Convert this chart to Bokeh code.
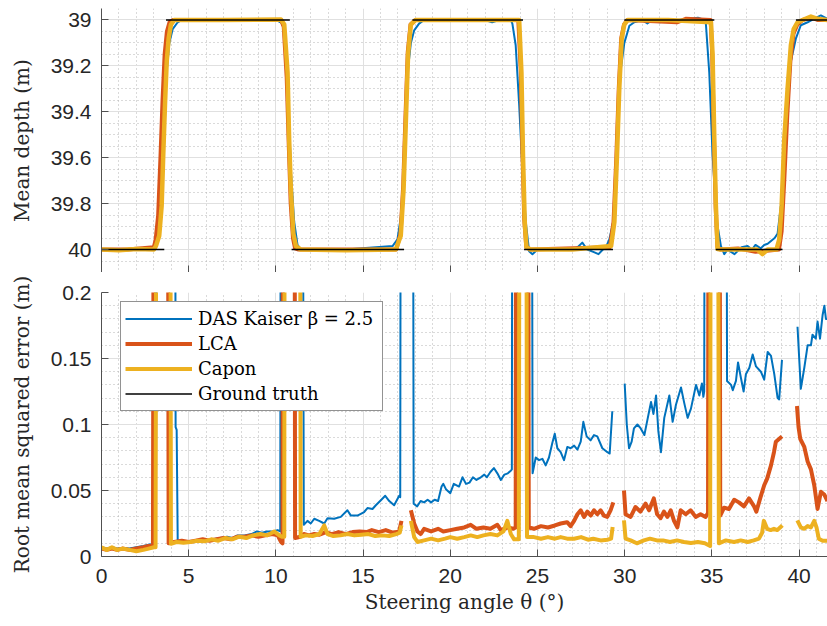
import numpy as np
from bokeh.plotting import figure
from bokeh.layouts import column
from bokeh.models import (Range1d, FixedTicker, Legend, LegendItem, ColumnDataSource,
                          CustomJSTickFormatter)
from bokeh.embed import file_html
from bokeh.resources import INLINE

NAN = float("nan")

# ---------------- data ----------------
X_TICKS = [0, 5, 10, 15, 20, 25, 30, 35, 40]
X_MINOR = [v for v in range(1, 42) if v % 5 != 0]
DEPTH_TICKS = [39.0, 39.2, 39.4, 39.6, 39.8, 40.0]
DEPTH_MINOR = [38.95, 39.05, 39.1, 39.15, 39.25, 39.3, 39.35, 39.45, 39.5, 39.55,
               39.65, 39.7, 39.75, 39.85, 39.9, 39.95, 40.05]
RMSE_TICKS = [0.0, 0.05, 0.1, 0.15, 0.2]
RMSE_MINOR = [0.01, 0.02, 0.03, 0.04, 0.06, 0.07, 0.08, 0.09, 0.11, 0.12, 0.13, 0.14,
              0.16, 0.17, 0.18, 0.19]

# mean depth (angle, depth)
DAS_DEPTH = [(0.0, 40.0), (1.0, 40.0), (2.0, 40.0), (3.0, 40.0), (3.22, 39.96), (3.41, 39.87), (3.6, 39.52),
             (3.73, 39.23), (3.89, 39.1), (4.08, 39.04), (4.37, 39.01), (4.6, 39.0), (7.0, 39.0), (10.0, 39.0),
             (10.38, 39.015), (10.57, 39.11), (10.73, 39.37), (10.86, 39.66), (11.05, 39.88), (11.24, 39.98),
             (11.43, 40.0), (14.0, 40.0), (16.69, 39.985), (16.97, 39.956), (17.26, 39.81), (17.39, 39.52),
             (17.55, 39.23), (17.74, 39.1), (17.93, 39.045), (18.21, 39.016), (18.5, 39.0), (22.0, 39.0),
             (22.4, 39.01), (22.8, 39.0), (23.2, 38.997), (23.47, 39.0), (23.56, 39.016), (23.75, 39.11),
             (23.95, 39.37), (24.14, 39.66), (24.33, 39.88), (24.52, 40.007), (24.71, 40.02), (25.0, 40.0),
             (27.0, 40.0), (27.3, 39.99), (27.57, 39.97), (27.85, 40.0), (28.2, 40.01), (28.5, 40.02),
             (28.75, 40.0), (28.95, 39.985), (29.12, 39.956), (29.37, 39.87), (29.56, 39.52), (29.75, 39.23),
             (29.98, 39.1), (30.27, 39.025), (30.55, 39.01), (31.0, 39.0), (31.3, 39.015), (31.6, 39.0),
             (32.0, 39.01), (33.0, 39.0), (33.8, 38.995), (34.2, 38.99), (34.4, 38.995), (34.6, 39.0),
             (34.66, 39.02), (34.85, 39.23), (35.04, 39.59), (35.29, 39.88), (35.52, 39.985), (35.71, 40.02),
             (35.9, 40.0), (36.3, 40.02), (36.7, 39.99), (37.05, 39.985), (37.3, 40.0), (37.5, 39.98),
             (37.8, 39.995), (38.0, 39.98), (38.2, 39.975), (38.6, 39.95), (38.77, 39.93), (39.0, 39.78),
             (39.25, 39.45), (39.53, 39.18), (39.82, 39.08), (40.1, 39.023), (40.49, 39.01), (40.87, 38.994),
             (41.25, 38.98), (41.63, 38.995)]
LCA_DEPTH = [(0.0, 40.0), (1.5, 40.0), (3.0, 39.99), (3.1, 39.96), (3.25, 39.85), (3.38, 39.6), (3.5, 39.35),
             (3.62, 39.15), (3.75, 39.05), (3.9, 39.01), (4.1, 39.0), (10.3, 39.0), (10.45, 39.03), (10.62, 39.25),
             (10.74, 39.55), (10.85, 39.8), (10.98, 39.95), (11.1, 39.995), (11.3, 40.0), (16.9, 40.0),
             (17.15, 39.93), (17.3, 39.72), (17.43, 39.42), (17.56, 39.14), (17.72, 39.02), (18.0, 39.0),
             (23.9, 39.0), (24.04, 39.22), (24.14, 39.58), (24.24, 39.87), (24.36, 39.99), (24.6, 40.0),
             (29.15, 39.99), (29.36, 39.88), (29.52, 39.6), (29.66, 39.3), (29.8, 39.08), (29.96, 39.02),
             (30.15, 39.0), (33.0, 39.01), (33.5, 38.995), (34.93, 39.0), (35.02, 39.15), (35.12, 39.52),
             (35.22, 39.82), (35.32, 39.99), (35.5, 40.0), (36.5, 39.995), (37.5, 40.01), (38.85, 40.0),
             (39.0, 39.92), (39.15, 39.7), (39.32, 39.42), (39.5, 39.18), (39.68, 39.06), (39.9, 39.02),
             (40.2, 39.0), (40.7, 38.99), (41.1, 39.0), (41.63, 39.0)]
CAPON_DEPTH = [(0.0, 40.0), (1.0, 40.003), (2.0, 39.998), (3.0, 40.0), (3.12, 39.985), (3.31, 39.94), (3.45, 39.81),
               (3.54, 39.59), (3.64, 39.37), (3.74, 39.18), (3.85, 39.08), (3.98, 39.02), (4.17, 39.0), (7.0, 39.0),
               (10.29, 38.998), (10.48, 39.02), (10.67, 39.23), (10.76, 39.52), (10.86, 39.74), (11.0, 39.93),
               (11.15, 39.985), (11.43, 40.0), (14.0, 40.003), (16.88, 40.0), (17.16, 39.94), (17.32, 39.74),
               (17.45, 39.45), (17.58, 39.15), (17.74, 39.02), (18.02, 39.0), (21.0, 39.0), (23.95, 39.0),
               (24.08, 39.23), (24.17, 39.59), (24.27, 39.88), (24.37, 39.99), (24.6, 40.0), (27.0, 40.0),
               (29.22, 39.985), (29.41, 39.88), (29.56, 39.59), (29.69, 39.3), (29.83, 39.08), (29.98, 39.02),
               (30.17, 39.0), (32.5, 39.0), (34.95, 39.01), (35.04, 39.15), (35.14, 39.52), (35.23, 39.81),
               (35.33, 39.998), (35.5, 40.0), (37.6, 40.0), (37.9, 40.02), (38.2, 40.0), (38.7, 40.0),
               (38.86, 39.957), (39.0, 39.81), (39.15, 39.52), (39.34, 39.3), (39.53, 39.11), (39.69, 39.04),
               (39.91, 39.01), (40.3, 38.997), (40.68, 38.985), (41.06, 38.995), (41.63, 39.0)]
# ground truth segments (start angle, end angle, depth)
GT_SEGMENTS = [(0.0, 3.6, 40.0), (3.7, 10.8, 39.0), (10.9, 17.35, 40.0), (17.83, 24.17, 39.0),
               (24.23, 29.33, 40.0), (29.98, 35.14, 39.0), (35.22, 39.05, 40.0), (39.82, 41.63, 39.0)]

# root mean squared error (angle, rmse); 0.6 = off the top of the axes, NaN = no data
DAS_RMSE = [(0.0, 0.007), (0.3, 0.006), (0.6, 0.007), (0.9, 0.006), (1.2, 0.0065), (1.6, 0.006), (2.0, 0.007),
            (2.4, 0.008), (2.7, 0.009), (3.0, 0.009), (3.12, 0.01), (3.2, 0.6), (4.2, 0.6), (4.25, 0.098),
            (4.31, 0.096), (4.37, 0.012), (4.6, 0.011), (5.0, 0.011), (5.3, 0.012), (5.6, 0.011), (6.0, 0.012),
            (6.4, 0.013), (6.8, 0.014), (7.2, 0.015), (7.5, 0.014), (7.8, 0.016), (8.2, 0.016), (8.6, 0.017),
            (8.9, 0.019), (9.2, 0.018), (9.5, 0.019), (9.8, 0.019), (10.1, 0.02), (10.25, 0.019), (10.3, 0.6),
            (11.5, 0.6), (11.6, 0.024), (11.81, 0.027), (12.0, 0.025), (12.2, 0.0286), (12.48, 0.027),
            (12.77, 0.025), (12.96, 0.029), (13.34, 0.0286), (13.72, 0.03), (14.1, 0.035), (14.3, 0.031),
            (14.68, 0.031), (15.06, 0.0337), (15.25, 0.0367), (15.54, 0.036), (15.73, 0.0388), (16.02, 0.0426),
            (16.27, 0.046), (16.5, 0.042), (16.78, 0.0388), (17.07, 0.046), (17.13, 0.045), (17.18, 0.6),
            (17.83, 0.6), (17.9, 0.04), (18.1, 0.038), (18.3, 0.042), (18.5, 0.041), (18.7, 0.043), (18.9, 0.041),
            (19.1, 0.043), (19.3, 0.042), (19.5, 0.053), (19.6, 0.055), (19.75, 0.051), (20.0, 0.048),
            (20.2, 0.055), (20.5, 0.053), (20.7, 0.06), (20.9, 0.055), (21.1, 0.056), (21.3, 0.06), (21.5, 0.058),
            (21.75, 0.06), (21.95, 0.062), (22.1, 0.06), (22.3, 0.064), (22.5, 0.067), (22.7, 0.063),
            (22.9, 0.058), (23.1, 0.062), (23.3, 0.063), (23.47, 0.065), (23.53, 0.066), (23.58, 0.6),
            (24.64, 0.6), (24.72, 0.063), (24.9, 0.075), (25.09, 0.073), (25.28, 0.074), (25.47, 0.069),
            (25.66, 0.075), (25.85, 0.086), (25.99, 0.093), (26.14, 0.082), (26.33, 0.079), (26.52, 0.073),
            (26.71, 0.083), (26.9, 0.082), (27.1, 0.084), (27.29, 0.081), (27.48, 0.087), (27.63, 0.102),
            (27.82, 0.091), (28.05, 0.088), (28.24, 0.092), (28.43, 0.091), (28.72, 0.082), (29.01, 0.079),
            (29.14, 0.078), (29.29, 0.11), (29.6, NAN), (30.0, 0.131), (30.12, 0.1), (30.25, 0.082),
            (30.4, 0.087), (30.53, 0.097), (30.73, 0.1), (30.92, 0.097), (31.13, 0.092), (31.28, 0.102),
            (31.51, 0.117), (31.65, 0.108), (31.8, 0.122), (31.93, 0.095), (32.08, 0.079), (32.27, 0.105),
            (32.56, 0.122), (32.75, 0.102), (32.94, 0.115), (33.23, 0.128), (33.42, 0.116), (33.61, 0.105),
            (33.8, 0.112), (34.09, 0.13), (34.28, 0.122), (34.43, 0.131), (34.51, 0.121), (34.56, 0.125),
            (34.62, 0.6), (35.8, 0.6), (35.87, 0.133), (36.1, 0.13), (36.2, 0.126), (36.38, 0.133),
            (36.5, 0.147), (36.67, 0.135), (36.82, 0.125), (36.95, 0.138), (37.15, 0.143), (37.34, 0.153),
            (37.53, 0.144), (37.81, 0.14), (38.0, 0.134), (38.2, 0.155), (38.39, 0.152), (38.58, 0.138),
            (38.77, 0.12), (38.86, 0.119), (39.02, 0.149), (39.5, NAN), (39.91, 0.174), (40.1, 0.127),
            (40.3, 0.143), (40.49, 0.16), (40.68, 0.16), (40.77, 0.168), (40.96, 0.165), (41.06, 0.178),
            (41.2, 0.165), (41.35, 0.183), (41.45, 0.19), (41.54, 0.18), (41.63, 0.18)]
LCA_RMSE = [(0.0, 0.006), (0.3, 0.005), (0.6, 0.006), (0.9, 0.005), (1.2, 0.006), (1.6, 0.005), (2.0, 0.006),
            (2.4, 0.007), (2.7, 0.008), (2.95, 0.008), (3.03, 0.6), (3.78, 0.6), (3.85, 0.01), (4.17, 0.011),
            (4.6, 0.012), (5.0, 0.011), (5.4, 0.012), (5.8, 0.013), (6.2, 0.012), (6.6, 0.013), (7.0, 0.014),
            (7.4, 0.013), (7.8, 0.015), (8.2, 0.015), (8.6, 0.016), (9.0, 0.015), (9.4, 0.016), (9.8, 0.017),
            (10.1, 0.016), (10.3, 0.011), (10.38, 0.01), (10.42, 0.6), (11.05, 0.6), (11.1, 0.014), (11.4, 0.015),
            (11.6, 0.017), (11.9, 0.016), (12.2, 0.017), (12.5, 0.0165), (12.87, 0.0185), (13.2, 0.017),
            (13.6, 0.0185), (14.0, 0.017), (14.4, 0.0185), (14.8, 0.019), (15.2, 0.0185), (15.5, 0.02),
            (15.9, 0.0185), (16.3, 0.02), (16.7, 0.018), (17.07, 0.019), (17.2, 0.027), (17.5, NAN),
            (17.74, 0.035), (17.93, 0.025), (18.12, 0.019), (18.3, 0.017), (18.5, 0.021), (18.9, 0.019),
            (19.3, 0.021), (19.6, 0.019), (20.0, 0.02), (20.4, 0.021), (20.8, 0.022), (21.17, 0.024),
            (21.5, 0.021), (21.9, 0.022), (22.3, 0.021), (22.7, 0.024), (22.9, 0.02), (23.3, 0.022),
            (23.6, 0.021), (23.75, 0.022), (23.79, 0.6), (24.44, 0.6), (24.5, 0.022), (24.8, 0.021),
            (25.2, 0.023), (25.6, 0.022), (26.0, 0.0235), (26.33, 0.025), (26.7, 0.026), (26.9, 0.023),
            (27.1, 0.027), (27.29, 0.032), (27.48, 0.035), (27.67, 0.03), (27.86, 0.034), (28.05, 0.031),
            (28.24, 0.035), (28.43, 0.032), (28.62, 0.035), (28.81, 0.031), (29.0, 0.03), (29.19, 0.035),
            (29.35, 0.041), (29.6, NAN), (29.96, 0.05), (30.05, 0.032), (30.34, 0.03), (30.62, 0.0375),
            (30.9, 0.034), (31.2, 0.04), (31.4, 0.035), (31.67, 0.044), (31.86, 0.032), (32.06, 0.029),
            (32.25, 0.034), (32.45, 0.03), (32.64, 0.035), (32.83, 0.027), (33.02, 0.022), (33.21, 0.035),
            (33.5, 0.032), (33.78, 0.035), (34.07, 0.03), (34.35, 0.032), (34.64, 0.03), (34.78, 0.033),
            (34.83, 0.6), (35.41, 0.6), (35.48, 0.031), (35.7, 0.037), (35.98, 0.036), (36.28, 0.043),
            (36.55, 0.041), (36.84, 0.038), (37.13, 0.044), (37.42, 0.038), (37.55, 0.034), (37.79, 0.045),
            (38.0, 0.054), (38.17, 0.059), (38.39, 0.069), (38.56, 0.079), (38.67, 0.087), (38.85, 0.089),
            (39.02, 0.091), (39.5, NAN), (39.88, 0.114), (39.97, 0.098), (40.07, 0.089), (40.3, 0.083),
            (40.49, 0.072), (40.68, 0.066), (40.87, 0.054), (41.06, 0.036), (41.25, 0.049), (41.44, 0.047),
            (41.63, 0.042)]
CAPON_RMSE = [(0.0, 0.007), (0.3, 0.005), (0.6, 0.007), (0.9, 0.005), (1.2, 0.006), (1.6, 0.005), (2.0, 0.004),
              (2.4, 0.005), (2.7, 0.006), (3.0, 0.007), (3.1, 0.007), (3.18, 0.6), (3.92, 0.6), (3.98, 0.0096),
              (4.3, 0.011), (4.7, 0.0105), (5.1, 0.011), (5.5, 0.012), (5.9, 0.0115), (6.3, 0.013), (6.7, 0.012),
              (7.1, 0.014), (7.5, 0.013), (7.9, 0.015), (8.3, 0.014), (8.7, 0.016), (9.1, 0.017), (9.5, 0.016),
              (9.9, 0.019), (10.2, 0.016), (10.35, 0.015), (10.48, 0.015), (10.52, 0.6), (11.36, 0.6),
              (11.42, 0.015), (11.7, 0.016), (12.1, 0.0155), (12.5, 0.017), (12.77, 0.0236), (12.96, 0.017),
              (13.3, 0.0155), (13.7, 0.016), (14.1, 0.017), (14.5, 0.016), (14.9, 0.0165), (15.3, 0.017),
              (15.7, 0.0155), (16.1, 0.016), (16.5, 0.0155), (16.9, 0.017), (17.1, 0.018), (17.2, 0.0236),
              (17.5, NAN), (17.74, 0.027), (17.93, 0.0147), (18.12, 0.011), (18.5, 0.0122), (18.9, 0.0135),
              (19.3, 0.0122), (19.7, 0.0135), (20.0, 0.0147), (20.4, 0.0135), (20.8, 0.0147), (21.17, 0.016),
              (21.55, 0.0147), (21.9, 0.016), (22.3, 0.017), (22.7, 0.016), (23.05, 0.019), (23.27, 0.027),
              (23.47, 0.017), (23.66, 0.013), (23.93, 0.013), (24.0, 0.6), (24.33, 0.6), (24.4, 0.0147),
              (24.8, 0.0147), (25.2, 0.0135), (25.6, 0.0147), (26.0, 0.0135), (26.33, 0.0147), (26.7, 0.0135),
              (27.1, 0.0135), (27.5, 0.0147), (27.9, 0.0127), (28.2, 0.0135), (28.62, 0.0122), (29.0, 0.0127),
              (29.22, 0.0135), (29.31, 0.0223), (29.6, NAN), (29.96, 0.0274), (30.05, 0.0135), (30.34, 0.0122),
              (30.7, 0.01), (31.1, 0.0122), (31.45, 0.0135), (31.85, 0.0122), (32.2, 0.0122), (32.6, 0.011),
              (33.0, 0.0122), (33.4, 0.011), (33.8, 0.0102), (34.2, 0.011), (34.6, 0.01), (34.9, 0.008),
              (34.96, 0.6), (35.32, 0.6), (35.4, 0.01), (35.8, 0.0122), (36.27, 0.011), (36.65, 0.0122),
              (37.05, 0.011), (37.4, 0.0122), (37.7, 0.0135), (37.88, 0.018), (37.98, 0.027), (38.17, 0.021),
              (38.37, 0.02), (38.56, 0.021), (38.75, 0.02), (38.94, 0.0223), (39.04, 0.0236), (39.5, NAN),
              (39.9, 0.0274), (40.1, 0.022), (40.3, 0.021), (40.49, 0.023), (40.68, 0.022), (40.87, 0.027),
              (41.0, 0.022), (41.13, 0.0135), (41.35, 0.012), (41.63, 0.012)]

LABELS = ["DAS Kaiser β = 2.5", "LCA", "Capon", "Ground truth"]
BLUE, RED, YELLOW, BLACK = "#0072BD", "#D95319", "#EDB120", "#000000"

X_END = 41.63


def split(pairs):
    return (np.array([p[0] for p in pairs], dtype=float),
            np.array([p[1] for p in pairs], dtype=float))


fmt = CustomJSTickFormatter(code="return String(Math.round(tick * 1000) / 1000);")


def style(p, yticks, yminor):
    p.outline_line_color = None
    p.background_fill_color = "white"
    p.border_fill_color = "white"
    xt = FixedTicker(ticks=X_TICKS, minor_ticks=X_MINOR)
    yt = FixedTicker(ticks=yticks, minor_ticks=yminor)
    p.xaxis.ticker = xt
    p.yaxis.ticker = yt
    p.xgrid.ticker = xt
    p.ygrid.ticker = yt
    for ax in (p.xaxis[0], p.yaxis[0]):
        ax.formatter = fmt
        ax.axis_line_color = "#505050"
        ax.axis_line_width = 1
        ax.major_tick_line_color = "#505050"
        ax.major_tick_in = 7
        ax.major_tick_out = 0
        ax.minor_tick_in = 0
        ax.minor_tick_out = 0
        ax.major_label_text_font = "Liberation Sans"
        ax.major_label_text_font_size = "21px"
        ax.major_label_text_color = "#262626"
        ax.axis_label_text_font = "DejaVu Serif"
        ax.axis_label_text_font_size = "20px"
        ax.axis_label_text_font_style = "normal"
        ax.axis_label_text_color = "#262626"
    p.yaxis.major_label_standoff = 10
    p.yaxis.axis_label_standoff = 14
    for g in (p.xgrid[0], p.ygrid[0]):
        g.grid_line_color = "#e0e0e0"
        g.grid_line_width = 1
        g.minor_grid_line_color = "#b5b5b5"
        g.minor_grid_line_width = 1
        g.minor_grid_line_dash = "1 3"


# ---------------- top panel: mean depth ----------------
p1 = figure(width=827, height=272, output_backend="svg", toolbar_location=None,
            x_range=Range1d(0, X_END), y_range=Range1d(40.1, 38.95),
            min_border_left=101, min_border_right=0, min_border_top=8, min_border_bottom=0)
style(p1, DEPTH_TICKS, DEPTH_MINOR)
# the upper panel shares the angle axis: ticks only, no tick labels
p1.xaxis.major_label_text_color = None
p1.xaxis.major_label_text_font_size = "0px"
p1.xaxis.major_label_standoff = 0
p1.yaxis.axis_label = "Mean depth (m)"

x, y = split(DAS_DEPTH)
p1.line(x, y, line_color=BLUE, line_width=2, line_join="round")
x, y = split(LCA_DEPTH)
p1.line(x, y, line_color=RED, line_width=4, line_join="round")
x, y = split(CAPON_DEPTH)
p1.line(x, y, line_color=YELLOW, line_width=4.5, line_join="round")
p1.multi_line(xs=[[s[0], s[1]] for s in GT_SEGMENTS], ys=[[s[2], s[2]] for s in GT_SEGMENTS],
              line_color=BLACK, line_width=1.5)

# ---------------- bottom panel: RMSE ----------------
p2 = figure(width=827, height=354, output_backend="svg", toolbar_location=None,
            x_range=Range1d(0, X_END), y_range=Range1d(0, 0.2),
            min_border_left=101, min_border_right=0, min_border_top=20, min_border_bottom=70)
style(p2, RMSE_TICKS, RMSE_MINOR)
p2.yaxis.axis_label = "Root mean squared error (m)"
p2.xaxis.axis_label = "Steering angle θ (°)"
p2.xaxis.major_label_standoff = 12
p2.xaxis.axis_label_standoff = 4

x, y = split(DAS_RMSE)
r_das = p2.line(x, y, line_color=BLUE, line_width=2, line_join="round")
x, y = split(LCA_RMSE)
r_lca = p2.line(x, y, line_color=RED, line_width=4, line_join="round")
x, y = split(CAPON_RMSE)
r_cap = p2.line(x, y, line_color=YELLOW, line_width=4, line_join="round")
# ground truth has no RMSE curve; a NaN-only line gives its legend entry
r_gt = p2.line(x="x", y="y", source=ColumnDataSource(dict(x=[NAN, NAN], y=[NAN, NAN])),
               line_color=BLACK, line_width=1.5)

legend = Legend(items=[LegendItem(label=LABELS[0], renderers=[r_das]),
                       LegendItem(label=LABELS[1], renderers=[r_lca]),
                       LegendItem(label=LABELS[2], renderers=[r_cap]),
                       LegendItem(label=LABELS[3], renderers=[r_gt])],
                location=(19, 145))
legend.label_text_font = "DejaVu Serif"
legend.label_text_font_size = "18px"
legend.label_text_color = "#000000"
legend.glyph_width = 67
legend.glyph_height = 25
legend.label_height = 25
legend.label_width = 180
legend.label_standoff = 6
legend.spacing = 0
legend.padding = 4
legend.margin = 0
legend.border_line_color = "#262626"
legend.border_line_width = 1
legend.background_fill_color = "white"
legend.background_fill_alpha = 1.0
p2.add_layout(legend)

layout = column(p1, p2, spacing=0)
open("out.html", "w").write(file_html(layout, INLINE))
